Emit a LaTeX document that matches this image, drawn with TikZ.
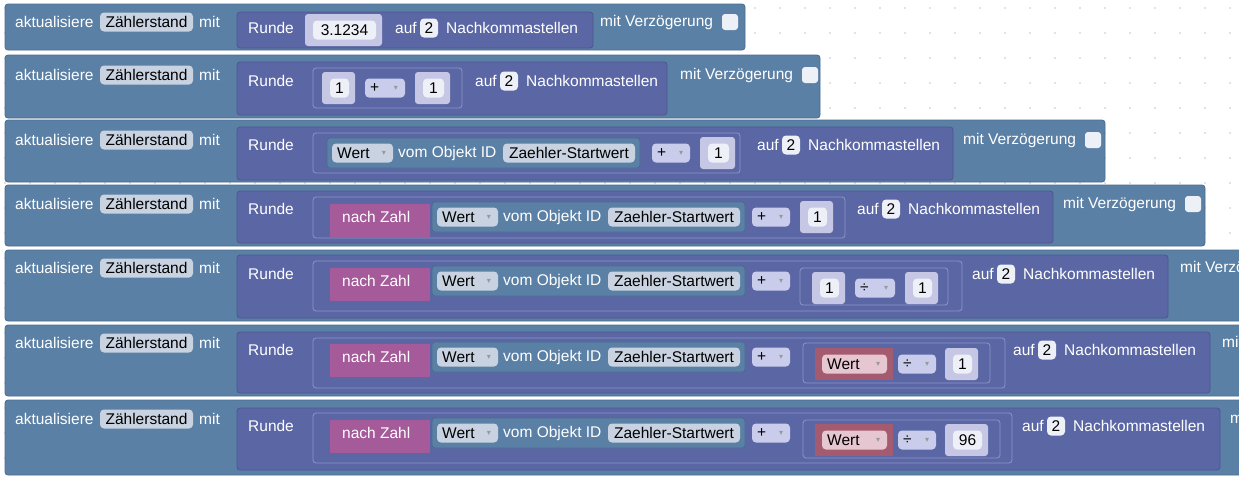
\documentclass[tikz,border=0pt]{standalone}
\usepackage{fontspec}
\setmainfont{Liberation Sans}
\newfontfamily\dv{DejaVu Sans}
\definecolor{outerc}{HTML}{5B80A5}
\definecolor{outerd}{HTML}{4A6C90}
\definecolor{rundc}{HTML}{5B67A5}
\definecolor{rundd}{HTML}{4C5690}
\definecolor{rundl}{HTML}{8C95C8}
\definecolor{fieldc}{HTML}{C8D2E0}
\definecolor{numc}{HTML}{C5C7E4}
\definecolor{numin}{HTML}{EEF0F8}
\definecolor{ddc}{HTML}{C9CDEB}
\definecolor{purc}{HTML}{A55B99}
\definecolor{redc}{HTML}{A55B6F}
\definecolor{redf}{HTML}{E6C6D0}
\definecolor{objc}{HTML}{5B80A5}
\definecolor{objf}{HTML}{C8D2E0}
\newcommand\wt[3]{\node[anchor=west,inner sep=0,text=white] at (#1,#2) {#3};}
\newcommand\fld[5]{\fill[#5,rounded corners=4pt] (#1,#3-9.5) rectangle (#2,#3+9.5); \node[inner sep=0] at ({(#1+#2)/2},#3) {#4};}
\newcommand\dd[5]{\fill[#5,rounded corners=4pt] (#1,#3-9.5) rectangle (#2,#3+9.5); \node[inner sep=0,anchor=west] at (#1+5,#3) {#4}; \node[inner sep=0,text=gray!80,font=\dv\fontsize{8}{8}\selectfont] at (#2-9,#3) {▾};}
\newcommand\numb[4]{\fill[numc,rounded corners=3pt] (#1,#3-16) rectangle (#2,#3+16); \fld{#1+8}{#2-6}{#3}{#4}{numin}}
\newcommand\blk[6]{\fill[#1,rounded corners=3pt] (#2,#3) rectangle (#4,#5); \draw[#6,line width=0.8pt,rounded corners=3pt] (#2,#3) rectangle (#4,#5);}
\newcommand\row[4]{%
  \blk{outerc}{5}{#2}{#1}{#3}{outerd}
  \wt{15}{#4}{aktualisiere}\fld{100}{193}{#4}{Zählerstand}{fieldc}\wt{199}{#4}{mit}}
\newcommand\auf[2]{\wt{#1}{#2}{auf}\fld{#1+25}{#1+43}{#2}{2}{numin}\wt{#1+51}{#2}{Nachkommastellen}}
\newcommand\mv[2]{\wt{#1}{#2}{mit Verzögerung}\fill[numin,rounded corners=3pt] (#1+122,#2-8) rectangle (#1+138,#2+8);}
\newcommand\obj[2]{\blk{objc}{#1}{#2-15}{#1+313}{#2+15}{outerd}\dd{#1+5}{#1+66}{#2}{Wert}{objf}\wt{#1+71}{#2}{vom Objekt ID}\fld{#1+176}{#1+308}{#2}{Zaehler-Startwert}{objf}}
\newcommand\nz[2]{\fill[purc] (#1,#2-13) rectangle (#1+100,#2+20); \wt{#1+12}{#2}{nach Zahl}\obj{#1+102}{#2}}
\begin{document}
\begin{tikzpicture}[x=1pt,y=-1pt,font=\fontsize{15.5}{15.5}\selectfont]
\useasboundingbox (0,0) rectangle (1239,477);
\fill[white] (0,0) rectangle (1239,477);
\foreach \i in {0,...,49}{\foreach \j in {0,...,19}{\fill[gray!45] (5+\i*25,8+\j*25) circle (0.9);}}
% row1
\row{745}{4}{50}{22}
\blk{rundc}{237}{12}{593}{48}{rundd}\wt{248}{28}{Runde}
\numb{305}{382}{30}{3.1234}\auf{395}{28}\mv{600}{22}
% row2
\row{820}{55}{118}{75}
\blk{rundc}{237}{62}{667}{115}{rundd}\wt{248}{81}{Runde}
\blk{rundc}{313}{68}{462}{108}{rundl}
\numb{322}{355}{88}{1}\dd{365}{405}{88}{+}{ddc}\numb{415}{450}{88}{1}
\auf{475}{81}\mv{680}{75}
% row3
\row{1105}{120}{182}{140}
\blk{rundc}{237}{127}{953}{180}{rundd}\wt{248}{145}{Runde}
\blk{rundc}{313}{133}{740}{173}{rundl}
\obj{327}{153}\dd{652}{690}{153}{+}{ddc}\numb{700}{735}{153}{1}
\auf{757}{145}\mv{963}{140}
% row4
\row{1205}{185}{246}{204}
\blk{rundc}{237}{191}{1053}{243}{rundd}\wt{248}{209}{Runde}
\blk{rundc}{313}{197}{845}{238}{rundl}
\nz{330}{217}\dd{752}{790}{217}{+}{ddc}\numb{800}{833}{217}{1}
\auf{857}{209}\mv{1063}{204}
% row5
\row{1245}{250}{321}{268}
\blk{rundc}{237}{255}{1168}{318}{rundd}\wt{248}{274}{Runde}
\blk{rundc}{313}{261}{962}{311}{rundl}
\nz{330}{281}\dd{752}{790}{281}{+}{ddc}
\blk{rundc}{800}{268}{948}{305}{rundl}
\numb{812}{845}{288}{1}\dd{855}{895}{288}{÷}{ddc}\numb{905}{938}{288}{1}
\auf{972}{274}\wt{1180}{268}{mit Verzögerung}
% row6
\row{1245}{325}{396}{343}
\blk{rundc}{237}{332}{1210}{393}{rundd}\wt{248}{350}{Runde}
\blk{rundc}{313}{338}{1005}{388}{rundl}
\nz{330}{357}\dd{752}{790}{357}{+}{ddc}
\blk{rundc}{803}{343}{990}{383}{rundl}
\fill[redc] (815,348) rectangle (893,380);\dd{822}{887}{364}{Wert}{redf}
\dd{898}{936}{364}{÷}{ddc}\numb{945}{978}{364}{1}
\auf{1013}{350}\wt{1222}{343}{mit Verzögerung}
% row7
\row{1245}{400}{475}{419}
\blk{rundc}{237}{408}{1220}{470}{rundd}\wt{248}{426}{Runde}
\blk{rundc}{313}{413}{1012}{463}{rundl}
\nz{330}{433}\dd{752}{790}{433}{+}{ddc}
\blk{rundc}{803}{420}{1000}{458}{rundl}
\fill[redc] (815,424) rectangle (893,456);\dd{822}{887}{440}{Wert}{redf}
\dd{898}{936}{440}{÷}{ddc}\numb{945}{988}{440}{96}
\auf{1022}{426}\wt{1230}{419}{mit Verzögerung}
\end{tikzpicture}
\end{document}
